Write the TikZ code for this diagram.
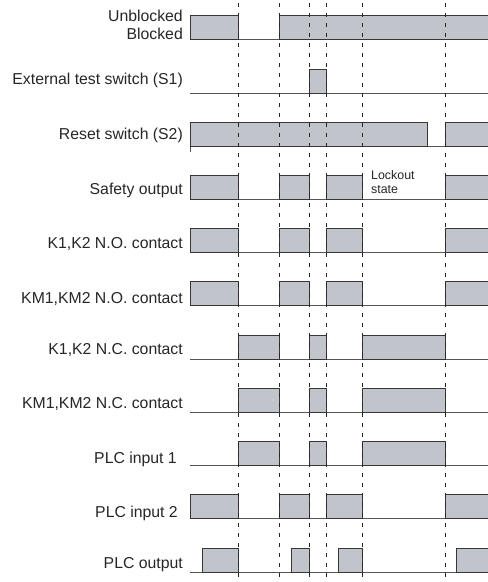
\documentclass[tikz,border=0pt]{standalone}
\usepackage{fontspec}
\setmainfont{Liberation Sans}
\usepackage{xcolor}
\usepackage{tikz}
\definecolor{sigfill}{RGB}{193,196,202}
\definecolor{sigline}{RGB}{55,55,55}
\tikzset{
  PL/.style={draw=sigline, fill=sigfill, line width=1pt},
  BL/.style={draw=sigline!85, line width=1pt},
  DL/.style={draw=black!85, line width=0.9pt, dash pattern=on 4pt off 6pt},
  LB/.style={anchor=east, inner sep=0pt, font=\fontsize{15.8}{18}\selectfont,
             text=black!85},
  NT/.style={anchor=north west, inner sep=0pt, align=left,
             font=\fontsize{12.4}{14}\selectfont, text=black!85}
}

\begin{document}
\begin{tikzpicture}[x=1pt, y=-1pt]
\useasboundingbox (0,0) rectangle (488,582);

% ---- Row 1: Unblocked / Blocked ----
\node[LB] (unb) at (183,16)   {Unblocked};
\node[LB] (blk) at (183,33.5) {Blocked};
\draw[BL] (190,39) -- (490,39);
\foreach \a/\b in {190/238, 279/490}
  \draw[PL] (\a,15) rectangle (\b,39);

% ---- Row 2: External test switch ----
\node[LB] (sone) at (183,80) {External test switch (S1)};
\draw[BL] (190,93) -- (490,93);
\draw[PL] (309,69) rectangle (326,93);

% ---- Row 3: Reset switch ----
\node[LB] (stwo) at (183,135) {Reset switch (S2)};
\draw[BL] (190,146) -- (490,146);
\draw[BL] (190,146) -- (190,152);
\foreach \a/\b in {190/427, 445/490}
  \draw[PL] (\a,122) rectangle (\b,146);

% ---- Row 4: Safety output ----
\node[LB] (safe) at (183,190.5) {Safety output};
\draw[BL] (190,199) -- (490,199);
\foreach \a/\b in {190/238, 279/309, 326/362, 445/490}
  \draw[PL] (\a,175) rectangle (\b,199);
\node[NT] (lock) at (371,170) {Lockout\\state};

% ---- Row 5: K1,K2 N.O. ----
\node[LB] (kno) at (183,244) {K1,K2 N.O. contact};
\draw[BL] (190,252) -- (490,252);
\foreach \a/\b in {190/238, 279/309, 326/362, 445/490}
  \draw[PL] (\a,228) rectangle (\b,252);

% ---- Row 6: KM1,KM2 N.O. ----
\node[LB] (kmno) at (183,298.5) {KM1,KM2 N.O. contact};
\draw[BL] (190,305.5) -- (490,305.5);
\foreach \a/\b in {190/238, 279/309, 326/362, 445/490}
  \draw[PL] (\a,281.5) rectangle (\b,305.5);

% ---- Row 7: K1,K2 N.C. ----
\node[LB] (knc) at (183,350) {K1,K2 N.C. contact};
\draw[BL] (190,359) -- (490,359);
\foreach \a/\b in {238/279, 309/326, 362/445}
  \draw[PL] (\a,335) rectangle (\b,359);

% ---- Row 8: KM1,KM2 N.C. ----
\node[LB] (kmnc) at (183,403.5) {KM1,KM2 N.C. contact};
\draw[BL] (190,412) -- (490,412);
\foreach \a/\b in {238/279, 309/326, 362/445}
  \draw[PL] (\a,388) rectangle (\b,412);

% ---- Row 9: PLC input 1 ----
\node[LB] (pin1) at (177,459) {PLC input 1};
\draw[BL] (190,465) -- (490,465);
\foreach \a/\b in {238/279, 309/326, 362/445}
  \draw[PL] (\a,441) rectangle (\b,465);

% ---- Row 10: PLC input 2 ----
\node[LB] (pin2) at (178,513) {PLC input 2};
\draw[BL] (190,518.5) -- (490,518.5);
\foreach \a/\b in {190/238, 279/309, 326/362, 445/490}
  \draw[PL] (\a,494.5) rectangle (\b,518.5);

% ---- Row 11: PLC output ----
\node[LB] (pout) at (183,565) {PLC output};
\draw[BL] (190,572) -- (490,572);
\foreach \a/\b in {202/238, 291/309, 338/362, 456/490}
  \draw[PL] (\a,548) rectangle (\b,572);

% ---- Event markers ----
\foreach \x in {238, 279, 309, 326, 362, 445}
  \draw[DL] (\x,3) -- (\x,584);

\end{tikzpicture}
\end{document}
